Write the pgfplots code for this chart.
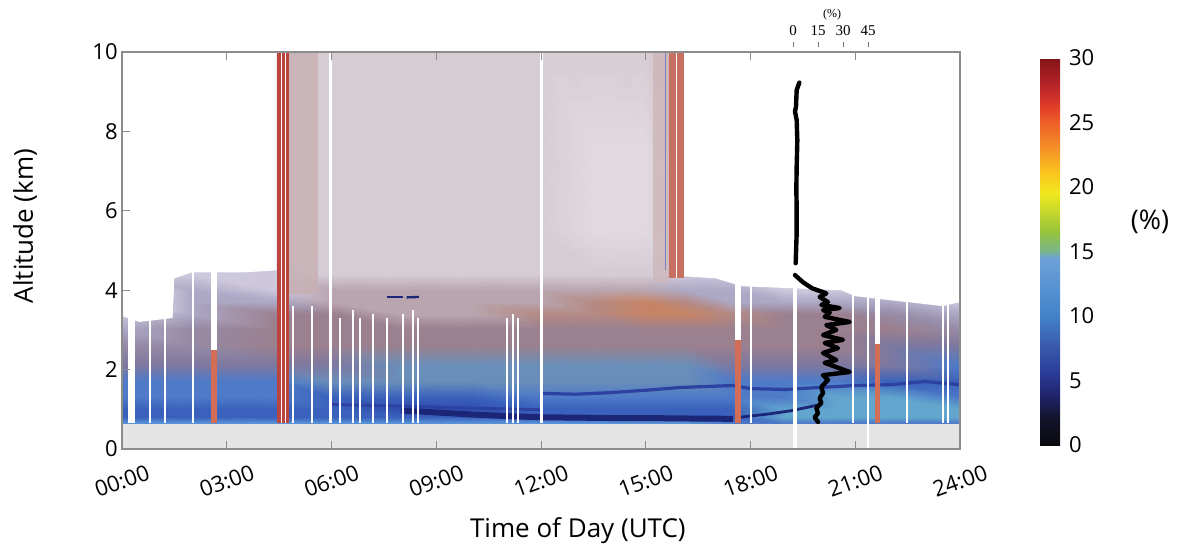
\documentclass[border=0pt]{standalone}
\usepackage{pgfplots}
\pgfplotsset{compat=1.18}
\usepackage{fontspec}
\setmainfont{Open Sans}
\newfontfamily\serifnum{Liberation Serif}
\definecolor{cGR}{RGB}{228,228,228}
\definecolor{LB}{RGB}{90,148,218}
\definecolor{B1}{RGB}{58,98,188}
\definecolor{B2}{RGB}{78,122,200}
\definecolor{DB}{RGB}{48,78,172}
\definecolor{BG}{RGB}{105,142,185}
\definecolor{BP}{RGB}{125,120,160}
\definecolor{BQ}{RGB}{150,138,165}
\definecolor{MB}{RGB}{155,128,143}
\definecolor{MBB}{RGB}{185,165,175}
\definecolor{OR}{RGB}{198,132,102}
\definecolor{ORR}{RGB}{180,138,132}
\definecolor{LT}{RGB}{172,168,198}
\definecolor{LU}{RGB}{205,200,220}
\definecolor{UP}{RGB}{214,205,212}
\definecolor{UPl}{RGB}{224,218,223}
\definecolor{UPr}{RGB}{206,182,186}
\definecolor{CY}{RGB}{98,165,205}
\definecolor{WW}{RGB}{255,255,255}
\definecolor{cNV}{RGB}{28,38,120}
\definecolor{cDL}{RGB}{45,65,160}
\definecolor{cRD}{RGB}{188,68,62}
\definecolor{cRD2}{RGB}{210,110,88}
\definecolor{cRD3}{RGB}{198,112,98}
\definecolor{cUPd}{RGB}{198,175,178}
\pgfplotsset{/pgf/number format/assume math mode=true}
\begin{document}
\begin{tikzpicture}
\useasboundingbox (-61pt,-48.5pt) rectangle (530pt,224.5pt);
\begin{axis}[
  at={(0,0)}, anchor=south west,
  scale only axis, width=419pt, height=198.5pt,
  xmin=0, xmax=24, ymin=0, ymax=10,
  xtick={0,3,6,9,12,15,18,21,24},
  xticklabels={00:00,03:00,06:00,09:00,12:00,15:00,18:00,21:00,24:00},
  ytick={0,2,4,6,8,10},
  xtick pos=both, ytick pos=left,
  tick align=inside, major tick length=3.8pt,
  tick style={draw=black!45, line width=0.5pt},
  axis line style={draw=black!45, line width=0.7pt},
  axis on top,
  xticklabel style={font=\fontsize{11}{13}\selectfont, yshift=-16pt, rotate=20, anchor=center},
  yticklabel style={font=\fontsize{11}{13}\selectfont, inner sep=1pt, xshift=-1pt},
  xlabel={Time of Day (UTC)}, ylabel={Altitude (km)},
  label style={font=\fontsize{13}{15}\selectfont},
  xlabel style={at={(axis description cs:0.544,-0.2065)}, anchor=center},
  ylabel style={at={(axis description cs:-0.1158,0.5617)}, anchor=center},
  colormap={depol}{
    rgb255(0pt)=(10,10,14) rgb255(2pt)=(18,18,42) rgb255(4pt)=(32,38,110)
    rgb255(5.5pt)=(42,58,150) rgb255(8pt)=(60,95,175) rgb255(10pt)=(65,130,200)
    rgb255(12pt)=(85,145,210) rgb255(14.5pt)=(110,160,215) rgb255(15pt)=(120,180,140)
    rgb255(16.5pt)=(150,195,60) rgb255(19.5pt)=(240,232,30) rgb255(21pt)=(250,200,30)
    rgb255(23pt)=(245,145,40) rgb255(25pt)=(238,95,40) rgb255(26.5pt)=(220,55,40)
    rgb255(28pt)=(180,35,40) rgb255(30pt)=(130,20,25)},
  point meta min=0, point meta max=30,
  colorbar,
  colorbar style={
    at={(1.09547,0.010076)}, anchor=south west,
    scale only axis, width=10pt, height=193.5pt,
    ytick={0,5,10,15,20,25,30},
    axis line style={draw=none}, major tick length=0pt,
    yticklabel style={font=\fontsize{11}{13}\selectfont, xshift=1pt},
    ylabel={(\%)},
    ylabel style={at={(axis description cs:5.5,0.576)}, anchor=center, rotate=-90, font=\fontsize{13.5}{15}\selectfont},
  },
]
% gray ground band
\addplot[fill=cGR, draw=none] coordinates {(0,0) (24,0) (24,0.65) (0,0.65)} -- cycle;
% backscatter curtain (explicit colours, interpolated)
\addplot[surf, shader=interp, mesh/color input=explicit, point meta=explicit symbolic, mesh/cols=15]
table[meta=c] {
x y c
0 0.65 color=LB
2 0.65 color=LB
4.45 0.65 color=LB
6 0.65 color=LB
8 0.65 color=LB
10 0.65 color=LB
12 0.65 color=LB
13.5 0.65 color=LB
15 0.65 color=LB
16.2 0.65 color=LB
17.5 0.65 color=B2
19 0.65 color=B2
20.5 0.65 color=B2
22 0.65 color=B2
24 0.65 color=B2
0 0.8 color=B1
2 0.8 color=B1
4.45 0.8 color=B1
6 0.8 color=B1
8 0.8 color=B1
10 0.8 color=B1
12 0.8 color=B1
13.5 0.8 color=B1
15 0.8 color=B1
16.2 0.8 color=B1
17.5 0.8 color=B1
19 0.8 color=CY
20.5 0.8 color=CY
22 0.8 color=CY
24 0.8 color=CY
0 1.0 color=B1
2 1.0 color=B1
4.45 1.0 color=B1
6 1.0 color=B1
8 1.0 color=DB
10 1.0 color=DB
12 1.0 color=B1
13.5 1.0 color=B1
15 1.0 color=B1
16.2 1.0 color=B1
17.5 1.0 color=B1
19 1.0 color=CY
20.5 1.0 color=CY
22 1.0 color=CY
24 1.0 color=CY
0 1.3 color=B2
2 1.3 color=B2
4.45 1.3 color=B2
6 1.3 color=B1
8 1.3 color=B1
10 1.3 color=B1
12 1.3 color=B2
13.5 1.3 color=B2
15 1.3 color=B2
16.2 1.3 color=B2
17.5 1.3 color=B2
19 1.3 color=B2
20.5 1.3 color=CY
22 1.3 color=CY
24 1.3 color=B2
0 1.7 color=B2
2 1.7 color=B2
4.45 1.7 color=B2
6 1.7 color=BG
8 1.7 color=BG
10 1.7 color=BG
12 1.7 color=BG
13.5 1.7 color=BG
15 1.7 color=BG
16.2 1.7 color=BG
17.5 1.7 color=B2
19 1.7 color=B2
20.5 1.7 color=B2
22 1.7 color=B1
24 1.7 color=B1
0 2.1 color=BP
2 2.1 color=BP
4.45 2.1 color=BP
6 2.1 color=BP
8 2.1 color=BG
10 2.1 color=BG
12 2.1 color=BG
13.5 2.1 color=BG
15 2.1 color=BG
16.2 2.1 color=BG
17.5 2.1 color=BP
19 2.1 color=BP
20.5 2.1 color=BP
22 2.1 color=BP
24 2.1 color=B2
0 2.6 color=BQ
2 2.6 color=BQ
4.45 2.6 color=MB
6 2.6 color=MB
8 2.6 color=MB
10 2.6 color=MB
12 2.6 color=MB
13.5 2.6 color=MB
15 2.6 color=MB
16.2 2.6 color=MB
17.5 2.6 color=MB
19 2.6 color=MB
20.5 2.6 color=MB
22 2.6 color=BP
24 2.6 color=BP
0 3.0 color=LT
2 3.0 color=BQ
4.45 3.0 color=MB
6 3.0 color=MB
8 3.0 color=MB
10 3.0 color=MB
12 3.0 color=MB
13.5 3.0 color=MB
15 3.0 color=MB
16.2 3.0 color=MB
17.5 3.0 color=MB
19 3.0 color=MB
20.5 3.0 color=MB
22 3.0 color=MB
24 3.0 color=BQ
0 3.4 color=LU
2 3.4 color=LT
4.45 3.4 color=MB
6 3.4 color=MB
8 3.4 color=MBB
10 3.4 color=MBB
12 3.4 color=ORR
13.5 3.4 color=ORR
15 3.4 color=OR
16.2 3.4 color=OR
17.5 3.4 color=ORR
19 3.4 color=MB
20.5 3.4 color=MB
22 3.4 color=BQ
24 3.4 color=LT
0 3.7 color=WW
2 3.7 color=LT
4.45 3.7 color=LT
6 3.7 color=MBB
8 3.7 color=MBB
10 3.7 color=MBB
12 3.7 color=MBB
13.5 3.7 color=ORR
15 3.7 color=OR
16.2 3.7 color=ORR
17.5 3.7 color=LT
19 3.7 color=LT
20.5 3.7 color=LT
22 3.7 color=LT
24 3.7 color=LU
0 4.0 color=WW
2 4.0 color=LT
4.45 4.0 color=LU
6 4.0 color=MBB
8 4.0 color=MBB
10 4.0 color=MBB
12 4.0 color=MBB
13.5 4.0 color=MBB
15 4.0 color=MBB
16.2 4.0 color=LT
17.5 4.0 color=LT
19 4.0 color=LU
20.5 4.0 color=LU
22 4.0 color=WW
24 4.0 color=WW
0 4.4 color=LU
2 4.4 color=LU
4.45 4.4 color=LU
6 4.4 color=UP
8 4.4 color=UP
10 4.4 color=UP
12 4.4 color=UP
13.5 4.4 color=UP
15 4.4 color=UP
16.2 4.4 color=LU
17.5 4.4 color=LU
19 4.4 color=WW
20.5 4.4 color=WW
22 4.4 color=WW
24 4.4 color=WW
0 5.5 color=UP
2 5.5 color=UP
4.45 5.5 color=UP
6 5.5 color=UP
8 5.5 color=UP
10 5.5 color=UP
12 5.5 color=UP
13.5 5.5 color=UPl
15 5.5 color=UPl
16.2 5.5 color=UPr
17.5 5.5 color=WW
19 5.5 color=WW
20.5 5.5 color=WW
22 5.5 color=WW
24 5.5 color=WW
0 7.5 color=UP
2 7.5 color=UP
4.45 7.5 color=UP
6 7.5 color=UP
8 7.5 color=UP
10 7.5 color=UP
12 7.5 color=UP
13.5 7.5 color=UPl
15 7.5 color=UPl
16.2 7.5 color=UPr
17.5 7.5 color=WW
19 7.5 color=WW
20.5 7.5 color=WW
22 7.5 color=WW
24 7.5 color=WW
0 10 color=UP
2 10 color=UP
4.45 10 color=UP
6 10 color=UP
8 10 color=UP
10 10 color=UP
12 10 color=UP
13.5 10 color=UP
15 10 color=UP
16.2 10 color=UPr
17.5 10 color=WW
19 10 color=WW
20.5 10 color=WW
22 10 color=WW
24 10 color=WW
};
% white masks above the layer top, outside the high-noise period
\addplot[fill=white, draw=none] coordinates {(0,10) (0,3.35) (0.5,3.2) (1.45,3.3) (1.5,4.3) (2.0,4.45) (3.5,4.45) (4.43,4.5) (4.43,10)} -- cycle;
\addplot[fill=white, draw=none] coordinates {(16.1,10) (16.1,4.35) (17,4.3) (17.75,4.1) (19.2,4.05) (20.6,4.0) (21,3.85) (22.5,3.7) (23.5,3.6) (24,3.7) (24,10)} -- cycle;
% denser strips in the high-noise period
\addplot[fill=cUPd, draw=none, fill opacity=0.8] coordinates {(4.78,3.9) (5.6,3.9) (5.6,10) (4.78,10)} -- cycle;
\addplot[fill=UPr, draw=none, fill opacity=0.8] coordinates {(15.2,4.2) (15.66,4.2) (15.66,10) (15.2,10)} -- cycle;
% dark layers
\addplot[color=cNV, line width=3pt] coordinates {(8,0.97) (9,0.92) (10,0.87) (11,0.83) (12,0.8) (13,0.79) (14,0.78) (15,0.78) (16,0.77) (17.5,0.76)};
\addplot[color=cNV, line width=1.4pt] coordinates {(17.7,0.8) (18.5,0.88) (19.2,0.97) (20,1.12)};
\addplot[color=cDL, line width=1.4pt] coordinates {(6,1.12) (8,1.08) (10,1.03) (12,0.99)};
\addplot[color=cDL, line width=1.6pt] coordinates {(12,1.4) (13,1.38) (14,1.42) (15,1.48) (16,1.55) (17.5,1.6) (18,1.52) (19,1.5) (20,1.55) (21,1.6) (22,1.62) (23,1.7) (24,1.62)};
\addplot[color=cNV, line width=1.2pt] coordinates {(7.6,3.83) (8.05,3.83)};
\addplot[color=cNV, line width=1.2pt] coordinates {(8.15,3.82) (8.5,3.83)};
% depolarising stripes
\addplot[fill=cRD, draw=none] coordinates {(4.43,0.65) (4.78,0.65) (4.78,10) (4.43,10)} -- cycle;
\addplot[white, line width=0.6pt] coordinates {(4.56,0.65) (4.56,10)};
\addplot[white, line width=0.6pt] coordinates {(4.68,0.65) (4.68,10)};
\addplot[fill=cRD3, draw=none] coordinates {(15.66,4.3) (16.1,4.3) (16.1,10) (15.66,10)} -- cycle;
\addplot[white, line width=0.8pt] coordinates {(15.88,4.3) (15.88,10)};
\addplot[color={rgb,255:red,120;green,130;blue,190}, line width=0.5pt] coordinates {(15.57,4.5) (15.57,10)};
\addplot[fill=cRD2, draw=none] coordinates {(2.55,0.65) (2.71,0.65) (2.71,2.5) (2.55,2.5)} -- cycle;
\addplot[fill=cRD2, draw=none] coordinates {(17.55,0.65) (17.72,0.65) (17.72,2.75) (17.55,2.75)} -- cycle;
\addplot[fill=cRD2, draw=none] coordinates {(21.56,0.65) (21.71,0.65) (21.71,2.65) (21.56,2.65)} -- cycle;
% data gaps
\addplot[fill=white, draw=none] coordinates {(0.18,0.65) (0.38,0.65) (0.38,4) (0.18,4)} -- cycle;
\addplot[fill=white, draw=none] coordinates {(2.55,2.5) (2.71,2.5) (2.71,4.7) (2.55,4.7)} -- cycle;
\addplot[fill=white, draw=none] coordinates {(17.55,2.75) (17.72,2.75) (17.72,4.7) (17.55,4.7)} -- cycle;
\addplot[fill=white, draw=none] coordinates {(21.56,2.65) (21.71,2.65) (21.71,4.7) (21.56,4.7)} -- cycle;
\addplot[white, line width=1pt] coordinates {(0.80,0.65) (0.80,3.4)};
\addplot[white, line width=1pt] coordinates {(1.23,0.65) (1.23,3.4)};
\addplot[white, line width=1pt] coordinates {(2.02,0.65) (2.02,4.5)};
\addplot[white, line width=1pt] coordinates {(4.91,0.65) (4.91,3.6)};
\addplot[white, line width=1pt] coordinates {(5.43,0.65) (5.43,3.6)};
\addplot[white, line width=1pt] coordinates {(6.24,0.65) (6.24,3.3)};
\addplot[white, line width=1pt] coordinates {(6.62,0.65) (6.62,3.5)};
\addplot[white, line width=1pt] coordinates {(6.82,0.65) (6.82,3.3)};
\addplot[white, line width=1pt] coordinates {(7.19,0.65) (7.19,3.4)};
\addplot[white, line width=1pt] coordinates {(7.58,0.65) (7.58,3.3)};
\addplot[white, line width=1pt] coordinates {(8.04,0.65) (8.04,3.4)};
\addplot[white, line width=1pt] coordinates {(8.34,0.65) (8.34,3.5)};
\addplot[white, line width=1pt] coordinates {(8.48,0.65) (8.48,3.3)};
\addplot[white, line width=1pt] coordinates {(11.02,0.65) (11.02,3.3)};
\addplot[white, line width=1pt] coordinates {(11.2,0.65) (11.2,3.4)};
\addplot[white, line width=1pt] coordinates {(11.34,0.65) (11.34,3.3)};
\addplot[white, line width=1pt] coordinates {(18.01,0.65) (18.01,4.3)};
\addplot[white, line width=1pt] coordinates {(20.94,0.65) (20.94,4.1)};
\addplot[white, line width=1pt] coordinates {(22.47,0.65) (22.47,3.9)};
\addplot[white, line width=1pt] coordinates {(23.51,0.65) (23.51,3.8)};
\addplot[white, line width=1pt] coordinates {(23.65,0.65) (23.65,3.8)};
\addplot[white, line width=1.5pt] coordinates {(5.98,0.65) (5.98,10)};
\addplot[white, line width=1.5pt] coordinates {(12.02,0.65) (12.02,10)};
\addplot[white, line width=2pt] coordinates {(19.27,0) (19.27,10)};
\addplot[white, line width=1.2pt] coordinates {(21.36,0) (21.36,3.9)};
\end{axis}
% profile inset axis (percent, top scale)
\begin{axis}[
  at={(0,0)}, anchor=south west,
  scale only axis, width=419pt, height=198.5pt,
  xmin=-402.6, xmax=100.2, ymin=0, ymax=10,
  axis x line*=top, axis y line=none,
  axis line style={draw=none},
  xtick={0,15,30,45},
  tick align=outside, major tick length=2.5pt,
  xtick style={draw=black!55, line width=0.5pt, yshift=2.5pt},
  xticklabel style={font=\serifnum\fontsize{7.5}{8}\selectfont, yshift=2pt},
  xlabel={(\%)},
  xlabel style={font=\serifnum\fontsize{6}{7}\selectfont, at={(axis description cs:0.8473,1)}, anchor=center, yshift=18.5pt},
]
\addplot[black, line width=2.2pt, line join=round, line cap=round] coordinates {
(3.8,9.23) (2.2,9.04) (1.8,8.62) (1.2,8.5) (2.2,8.29) (2.6,7.78) (2.2,7.11) (2.0,6.52) (2.2,6.1) (2.2,5.44) (1.8,4.93) (1.6,4.68)};
\addplot[black, line width=2.2pt, line join=round, line cap=round] coordinates {
(1.2,4.38) (6,4.2) (11.4,4.05) (20,3.92) (16,3.83) (21,3.70) (17,3.63) (28,3.55) (18,3.50) (22,3.43) (19,3.33) (34,3.2) (20,3.12) (26,3.0) (18,2.87) (30,2.75) (19,2.67) (27,2.54) (18,2.42) (26,2.24) (19,2.17) (34,1.94) (18,1.86) (21,1.74) (17,1.56) (18,1.41) (16,1.28) (17,1.16) (14,1.03) (15,0.9) (13,0.8) (15,0.68)};
\end{axis}
\end{tikzpicture}
\end{document}
